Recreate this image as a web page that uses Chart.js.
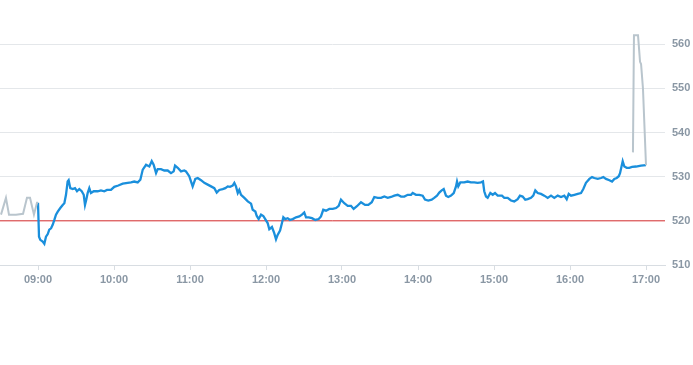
<!DOCTYPE html>
<html>
<head>
<meta charset="utf-8">
<script src="https://cdn.jsdelivr.net/npm/chart.js@4/dist/chart.umd.min.js"></script>
<style>
  html, body { margin: 0; padding: 0; background: #ffffff; }
  #wrap { position: relative; width: 693px; height: 365px; }
</style>
</head>
<body>
<div id="wrap"><canvas id="c"></canvas></div>
<script>
// Times are minutes after midnight
const preTimes  = [510.8, 514.7, 517.1, 522.6, 528.2, 531.3, 533.7, 536.8, 539.2, 540.0];
const preValues = [521.4, 525.2, 521.4, 521.4, 521.6, 525.2, 525.2, 521.4, 524.1, 524.1];

const regTimes = [
  540.0, 540.8, 541.8, 543.7, 545.0, 546.3, 547.7, 548.9, 550.3, 551.6, 552.9, 554.2, 555.6, 557.6, 559.5, 560.8,
  562.1, 563.4, 564.2, 565.5, 567.4, 569.2, 570.8, 572.6, 574.5, 576.1, 577.1, 578.1, 579.2, 580.5, 581.8, 584.0,
  587.1, 589.7, 592.3, 594.5, 597.6, 600.2, 603.4, 606.9, 610.8, 613.4, 616.0, 618.7, 620.8, 622.7, 625.3, 627.9,
  629.8, 631.3, 633.2, 634.5, 637.1, 639.7, 642.4, 645.0, 647.1, 648.2, 650.3, 652.9, 655.5, 656.8, 659.4, 662.1,
  664.2, 666.1, 668.7, 671.3, 674.0, 676.6, 679.2, 681.1, 683.1, 685.8, 687.9, 689.8, 691.6, 693.7, 695.0, 696.3,
  697.7, 698.9, 700.3, 702.9, 705.6, 708.2, 709.5, 711.6, 712.7, 714.2, 716.1, 717.9, 719.4, 721.3, 722.6, 724.7,
  726.5, 727.9, 729.2, 731.1, 732.6, 733.7, 735.2, 737.1, 738.9, 741.1, 743.7, 746.3, 748.4, 750.2, 751.6, 753.7,
  756.3, 758.9, 761.6, 763.4, 765.2, 767.4, 770.0, 772.7, 775.3, 777.4, 779.2, 781.8, 784.5, 787.1, 789.2, 791.8,
  795.0, 798.2, 800.8, 803.5, 805.5, 808.2, 810.8, 813.4, 816.1, 818.7, 821.3, 824.0, 826.6, 829.2, 831.9, 834.5,
  835.8, 838.4, 841.0, 843.7, 845.5, 848.1, 850.8, 852.8, 855.0, 856.8, 858.7, 860.3, 862.1, 863.9, 866.1, 868.2,
  870.0, 870.8, 871.8, 873.4, 876.5, 879.2, 881.8, 884.4, 887.1, 889.7, 891.3, 892.3, 893.7, 895.0, 897.1, 899.0,
  900.8, 902.9, 905.0, 906.3, 908.1, 910.8, 913.4, 916.0, 918.7, 920.5, 922.6, 924.7, 926.6, 929.2, 931.0, 932.6,
  934.5, 937.1, 939.7, 942.4, 945.0, 947.6, 950.3, 952.9, 955.5, 957.4, 959.0, 960.8, 963.5, 966.1, 968.7, 970.5,
  972.6, 975.3, 977.4, 979.2, 981.9, 984.5, 986.3, 988.4, 991.1, 993.2, 995.0, 996.9, 998.5, 999.5, 1001.6, 1002.9,
  1004.8, 1006.8, 1009.0, 1012.1, 1016.1, 1020.0
];
const regValues = [
  524.1, 516.4, 515.7, 515.3, 514.8, 516.4, 517.0, 518.0, 518.3, 519.1, 520.2, 521.4, 522.1, 522.9, 523.6, 524.0,
  525.9, 528.9, 529.2, 527.4, 527.2, 527.4, 526.7, 527.2, 526.7, 525.9, 523.6, 524.8, 526.3, 527.4, 526.3, 526.7,
  526.7, 526.9, 526.7, 527.0, 527.0, 527.7, 528.0, 528.4, 528.6, 528.7, 528.9, 528.7, 529.3, 531.6, 532.7, 532.3,
  533.5, 532.7, 530.8, 531.7, 531.7, 531.4, 531.4, 530.8, 531.2, 532.5, 532.0, 531.2, 531.4, 531.2, 530.1, 527.8,
  529.5, 529.7, 529.2, 528.6, 528.2, 527.8, 527.4, 526.4, 527.0, 527.2, 527.4, 527.8, 527.7, 528.0, 528.6, 527.8,
  526.3, 527.0, 525.9, 525.2, 524.4, 523.9, 522.5, 522.1, 521.1, 520.4, 521.4, 521.1, 520.4, 519.5, 518.1, 518.6,
  517.2, 515.8, 516.8, 517.8, 519.5, 520.8, 520.4, 520.6, 520.2, 520.4, 520.8, 521.0, 521.4, 521.9, 520.8, 520.8,
  520.6, 520.2, 520.4, 521.0, 522.5, 522.3, 522.7, 522.7, 522.9, 523.4, 524.8, 524.0, 523.4, 523.4, 522.7, 523.3,
  524.2, 523.6, 523.6, 524.2, 525.4, 525.2, 525.2, 525.5, 525.2, 525.4, 525.7, 525.9, 525.5, 525.5, 525.9, 525.9,
  526.3, 525.9, 525.9, 525.7, 524.8, 524.6, 524.8, 525.2, 525.7, 526.4, 526.9, 527.2, 525.7, 525.4, 525.7, 526.3,
  527.8, 528.9, 527.8, 528.7, 528.7, 528.9, 528.7, 528.7, 528.6, 528.7, 528.9, 526.7, 525.5, 525.2, 526.3, 525.9,
  526.3, 525.7, 525.7, 525.7, 525.2, 525.2, 524.6, 524.4, 524.9, 525.7, 525.5, 524.8, 524.9, 525.2, 525.7, 526.9,
  526.3, 526.1, 525.7, 525.2, 525.7, 525.2, 525.7, 525.4, 525.7, 524.9, 526.1, 525.7, 525.9, 526.1, 526.3, 527.2,
  528.6, 529.5, 529.9, 529.7, 529.5, 529.7, 529.9, 529.5, 529.2, 528.9, 529.5, 529.7, 530.1, 530.8, 533.5, 532.3,
  532.0, 532.0, 532.2, 532.3, 532.5, 532.6
];

const postTimes  = [1009.7, 1010.5, 1013.7, 1015.3, 1016.1, 1017.6, 1020.0];
const postValues = [535.5, 562.0, 562.0, 556.0, 555.5, 550.0, 532.6];

const prevClose = 520;
const xRange = [510, 1035];       // 08:30 .. 17:15
const yRange = [510, 570];
const hourTicks = [540, 600, 660, 720, 780, 840, 900, 960, 1020];
const priceTicks = [510, 520, 530, 540, 550, 560];

function pts(xs, ys) { return xs.map((x, i) => ({ x: x, y: ys[i] })); }
function hhmm(m) {
  const h = Math.floor(m / 60), mm = Math.round(m % 60);
  return String(h).padStart(2, '0') + ':' + String(mm).padStart(2, '0');
}

const tickColor = '#8a97a4';
const tickFont = { family: '"Liberation Sans", Arial, sans-serif', size: 11, weight: 'bold' };

new Chart(document.getElementById('c'), {
  type: 'line',
  data: {
    datasets: [
      { data: pts(postTimes, postValues), borderColor: '#b9c5cd', borderWidth: 2, pointRadius: 0, tension: 0 },
      { data: pts(preTimes, preValues), borderColor: '#b9c5cd', borderWidth: 2, pointRadius: 0, tension: 0 },
      { data: pts(regTimes, regValues), borderColor: '#1a8fdc', borderWidth: 2.3, pointRadius: 0, tension: 0 },
      { data: pts(xRange, [prevClose, prevClose]), borderColor: '#dc3131', borderWidth: 1, pointRadius: 0, tension: 0 }
    ]
  },
  options: {
    responsive: true,
    maintainAspectRatio: false,
    animation: false,
    layout: { autoPadding: false, padding: 0 },
    plugins: { legend: { display: false }, tooltip: { enabled: false } },
    scales: {
      x: {
        type: 'linear',
        min: xRange[0], max: xRange[1],
        afterBuildTicks: s => { s.ticks = hourTicks.map(v => ({ value: v })); },
        afterFit: s => { s.height = 100; s.paddingLeft = 0; s.paddingRight = 0; },
        grid: { drawOnChartArea: false, drawTicks: true, tickLength: 5, color: '#d8dde2' },
        border: { color: '#d8dde2' },
        ticks: { color: tickColor, font: tickFont, padding: 3, maxRotation: 0, autoSkip: false,
                 callback: v => hhmm(v) }
      },
      y: {
        position: 'right',
        min: yRange[0], max: yRange[1],
        afterBuildTicks: s => { s.ticks = priceTicks.map(v => ({ value: v })); },
        afterFit: s => { s.width = 28; s.paddingTop = 0; s.paddingBottom = 0; },
        grid: { color: '#e4e7ea', drawTicks: false },
        border: { display: false },
        ticks: { color: tickColor, font: tickFont, padding: 7 }
      }
    }
  }
});
</script>
</body>
</html>
